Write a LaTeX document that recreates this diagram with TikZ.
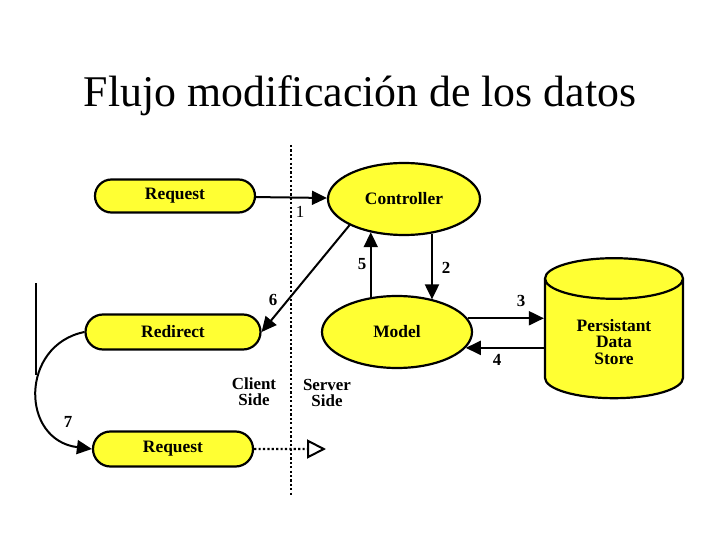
\documentclass[tikz,border=0pt]{standalone}
\usepackage{fontspec}
\setmainfont{Liberation Serif}
\usepackage{tikz}
\usetikzlibrary{arrows.meta,calc,positioning,shapes.geometric,shapes.misc}
\usepackage{xcolor}
\definecolor{boxfill}{HTML}{FFFF33}

\begin{document}
\begin{tikzpicture}[x=1bp,y=-1bp,>={Triangle[length=15bp,width=14bp]},
  pill/.style={rounded rectangle,draw,line width=2.2bp,fill=boxfill,inner sep=0pt,
    font=\fontsize{17.5}{19}\selectfont\bfseries},
  blob/.style={ellipse,draw,line width=2.2bp,fill=boxfill,inner sep=0pt,
    font=\fontsize{17.5}{19}\selectfont\bfseries},
  flow/.style={line width=2bp,->},
  dots/.style={line width=2.2bp,dash pattern=on 2.2bp off 2.2bp},
  num/.style={font=\fontsize{17}{19}\selectfont\bfseries},
  side/.style={align=center,font=\fontsize{17}{16}\selectfont\bfseries}]
  \useasboundingbox (0,0) rectangle (720,540);
  \node[font=\fontsize{44}{48}\selectfont] (title) at (360,96) {Flujo modificación de los datos};
  % client / server boundary
  \draw[dots] (291,145) -- (291,495);
  \draw[line width=1.2bp] (36,283) -- (36,375);
  \node[pill,minimum width=160bp,minimum height=33bp] (req) at (175,196) {Request};
  \node[pill,minimum width=175bp,minimum height=35bp] (redir) at (173,332) {Redirect};
  \node[pill,minimum width=160bp,minimum height=35bp] (req2) at (173,449) {Request};
  \node[blob,minimum width=152bp,minimum height=72bp] (ctrl) at (404,199) {Controller};
  \node[blob,minimum width=150bp,minimum height=72bp] (model) at (397,332) {Model};
  \node[cylinder,shape border rotate=90,draw,line width=2.2bp,fill=boxfill,aspect=0.5,
    minimum width=138bp,minimum height=140bp,align=center,
    font=\fontsize{17.5}{17}\selectfont\bfseries] (store) at (614,342) {Persistant\\Data\\Store};
  \node[side] (client) at (254,392) {Client\\Side};
  \node[side] (server) at (327,393) {Server\\Side};
  \coordinate (srv) at (326,449);
  % numbered flow
  \draw[flow] (req) -- (ctrl);
  \draw[flow] (ctrl.309.9) -- (ctrl.309.9 |- model.42.3);
  \draw[flow] (model.11.5) -- (model.11.5 -| store.west);
  \draw[flow] (model.-13.4 -| store.west) -- (model.-13.4);
  \draw[flow] (model.127.6) -- (model.127.6 |- ctrl.224.5);
  \draw[flow] (ctrl.south west) -- (redir.east);
  \draw[flow] (redir.west) .. controls (20,345) and (20,440) .. (req2.west);
  \draw[dots,-{Triangle[open,length=19bp,width=19bp,line width=2bp]}] (req2) -- (srv);
  \node[font=\fontsize{17}{19}\selectfont] (n1) at (300,212) {1};
  \node[num] (n2) at (446,268) {2};
  \node[num] (n3) at (521,301) {3};
  \node[num] (n4) at (497,360) {4};
  \node[num] (n5) at (362,264) {5};
  \node[num] (n6) at (273,300) {6};
  \node[num] (n7) at (68,422) {7};
\end{tikzpicture}
\end{document}
